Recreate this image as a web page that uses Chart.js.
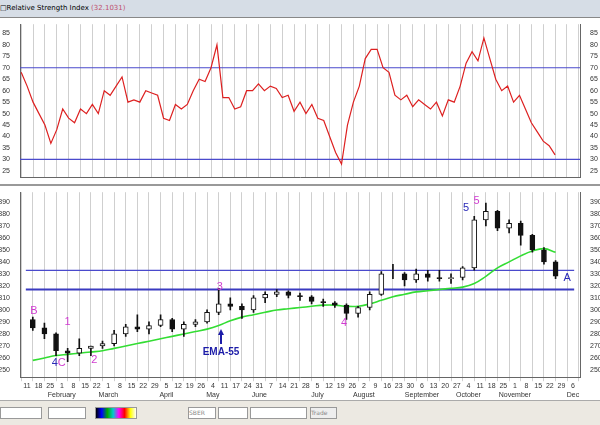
<!DOCTYPE html>
<html>
<head>
<meta charset="utf-8">
<script src="https://cdn.jsdelivr.net/npm/chart.js@4.4.1/dist/chart.umd.min.js"></script>
<style>
body { margin: 0; width: 600px; height: 425px; background: #fff; font-family: "DejaVu Sans", sans-serif; overflow: hidden; position: relative; }
#title { position: absolute; left: 0; top: 0; width: 600px; height: 17px; background: #d6dde6; border-bottom: 1px solid #888; font-size: 7px; line-height: 17px; }
#title span { color: #c0506e; }
#top { position: absolute; left: 0; top: 18px; }
#sep { position: absolute; left: 0; top: 184px; width: 600px; height: 2px; background: #999; }
#bottom { position: absolute; left: 0; top: 186px; }
#bar { position: absolute; left: 0; top: 400px; width: 600px; height: 25px; background: #ece9e2; border-top: 1px solid #aaa; font-size: 6px; color: #888; }
.box { position: absolute; top: 6px; height: 10px; border: 1px solid #999; background: #fff; }
</style>
</head>
<body>
<div id="title">&#9633;Relative Strength Index <span>(32.1031)</span></div>
<canvas id="top" width="600" height="166"></canvas>
<div id="sep"></div>
<canvas id="bottom" width="600" height="214"></canvas>
<div id="bar">
  <div class="box" style="left:0;width:40px"></div>
  <div class="box" style="left:48px;width:36px"></div>
  <div class="box" style="left:95px;width:40px;background:linear-gradient(90deg,#000,#00f,#0a0,#0cc,#f0f,#f00,#ff0,#fff)"></div>
  <div class="box" style="left:188px;width:26px;line-height:10px">SBER</div>
  <div class="box" style="left:218px;width:28px"></div>
  <div class="box" style="left:250px;width:55px"></div>
  <div class="box" style="left:310px;width:25px;line-height:10px;background:#eee">Trade</div>
</div>
<script>
// week tick labels (Mondays), month under first Monday of month
var weekDays = ["11", "18", "25", "1", "8", "15", "22", "1", "8", "15", "22", "29", "5", "12", "19", "26", "4", "11", "17", "24", "31", "7", "14", "21", "28", "5", "12", "19", "26", "2", "9", "16", "23", "30", "6", "13", "20", "27", "4", "11", "18", "25", "1", "8", "15", "22", "29", "6"];
var monthAt = { 3: "February", 7: "March", 12: "April", 16: "May", 20: "June", 25: "July", 29: "August", 34: "September", 38: "October", 42: "November", 47: "Dec" };

var rsiTicks = [25, 30, 35, 40, 45, 50, 55, 60, 65, 70, 75, 80, 85];
var priceTicks = [250, 260, 270, 280, 290, 300, 310, 320, 330, 340, 350, 360, 370, 380, 390];

// RSI, two readings per week
var rsiValues = [68, 62, 55, 50, 45, 37, 43, 52, 48, 46, 52, 50, 54, 50, 60, 58, 62, 66, 55, 56,
  55, 60, 59, 58, 48, 47, 54, 52, 54, 60, 65, 64, 70, 80, 57, 57, 52, 53, 60, 60,
  63, 60, 62, 61, 57, 58, 51, 55, 50, 54, 48, 47, 40, 33, 28, 45, 55, 62, 74, 78,
  78, 70, 68, 58, 56, 58, 53, 56, 54, 52, 55, 49, 56, 55, 62, 72, 77, 73, 83, 74,
  65, 60, 62, 55, 58, 52, 46, 42, 38, 36, 32];

// weekly price bars
var opens  = [292, 285, 280, 266, 264, 268, 270, 272, 280, 286, 284, 287, 292, 284, 288, 290, 298, 305, 303, 300, 310, 313, 315, 312, 311, 307, 306, 304, 297, 302, 313, 330, 330, 325, 330, 327, 326, 327, 335, 375, 382, 368, 372, 362, 350, 340];
var highs  = [294, 289, 281, 268, 276, 270, 274, 283, 288, 296, 290, 296, 293, 290, 292, 300, 318, 310, 305, 312, 315, 317, 316, 314, 312, 309, 307, 305, 303, 315, 332, 338, 331, 334, 333, 333, 330, 336, 378, 389, 383, 375, 374, 363, 352, 341];
var lows   = [283, 276, 262, 257, 262, 262, 268, 270, 278, 282, 280, 286, 282, 278, 286, 289, 296, 300, 293, 298, 306, 311, 310, 308, 305, 303, 302, 292, 294, 300, 312, 326, 320, 323, 324, 324, 322, 325, 333, 370, 366, 364, 354, 348, 338, 326];
var closes = [285, 280, 266, 264, 268, 270, 272, 280, 286, 284, 287, 292, 284, 288, 290, 298, 305, 303, 300, 310, 313, 315, 312, 311, 307, 306, 304, 297, 302, 313, 330, 330, 325, 330, 327, 326, 327, 335, 375, 382, 368, 372, 362, 350, 340, 328];
var ema55  = [258, 260, 262, 263, 264, 265, 266, 268, 270, 272, 274, 276, 278, 280, 282, 284, 287, 291, 294, 296, 298, 300, 301, 302, 303, 304, 304, 303, 303, 305, 308, 311, 313, 315, 316, 317, 318, 319, 322, 328, 335, 340, 345, 349, 351, 348];

var rsiLevels = [70, 30];
var priceLevels = [333, 317];

// wave labels: text, week, price, colour
var notes = [
  ["B", 0.6, 299, "#d03cd0"], ["1", 3.5, 290, "#d03cd0"], ["2", 5.8, 258, "#d03cd0"],
  ["4", 2.4, 256, "#2a2ab8"], ["C", 3.0, 256, "#d03cd0"], ["3", 16.6, 319, "#d03cd0"],
  ["4", 27.3, 289, "#d03cd0"], ["5", 37.8, 385, "#2a2ab8"], ["5", 38.7, 391, "#d03cd0"],
  ["A", 46.5, 327, "#2a2ab8"], ["EMA-55", 16.7, 265, "#1c1ca8"]
];

var XMIN = -0.1, XMAX = 47.1;

function fixWidth(s) { s.width = 20; }

function xAxis(showLabels) {
  return {
    type: "linear", min: XMIN, max: XMAX,
    afterBuildTicks: function(s) {
      var t = [];
      for (var i = 0; i < weekDays.length; ++i) t.push({ value: i });
      s.ticks = t;
    },
    grid: { color: "#cfcfcf", drawTicks: showLabels, tickLength: 4 },
    border: { color: "#666" },
    ticks: {
      display: showLabels, autoSkip: false, maxRotation: 0, padding: 1,
      font: { size: 7 }, color: "#333",
      callback: function(v) { return monthAt[v] ? [weekDays[v], monthAt[v]] : weekDays[v]; }
    }
  };
}

function yAxis(min, max, tickList, pos) {
  return {
    position: pos, min: min, max: max, afterFit: fixWidth,
    afterBuildTicks: function(s) {
      s.ticks = tickList.map(function(v) { return { value: v }; });
    },
    grid: { display: false },
    ticks: { font: { size: 7 }, color: "#333", padding: 2 },
    border: { color: "#666" }
  };
}

function levelData(v) { return [{ x: XMIN, y: v }, { x: XMAX, y: v }]; }

var rsiPoints = [];
for (var i = 0; i < rsiValues.length; ++i) rsiPoints.push({ x: i / 2, y: rsiValues[i] });

new Chart(document.getElementById("top"), {
  type: "line",
  data: {
    datasets: [
      { data: rsiPoints, borderColor: "#dd2020", borderWidth: 1.2, pointRadius: 0, tension: 0 },
      { data: levelData(rsiLevels[0]), borderColor: "#4a4acc", borderWidth: 1.2, pointRadius: 0 },
      { data: levelData(rsiLevels[1]), borderColor: "#4a4acc", borderWidth: 1.2, pointRadius: 0 }
    ]
  },
  options: {
    animation: false, responsive: false,
    layout: { padding: { top: 4, bottom: 2 } },
    plugins: { legend: { display: false }, tooltip: { enabled: false } },
    scales: { x: xAxis(false), y: yAxis(22, 89, rsiTicks, "left"), y2: yAxis(22, 89, rsiTicks, "right") }
  }
});

var wicks = [], bodies = [], bodyColors = [], emaPoints = [];
for (var i = 0; i < closes.length; ++i) {
  wicks.push({ x: i + 0.5, y: [lows[i], highs[i]] });
  bodies.push({ x: i + 0.5, y: [opens[i], closes[i]] });
  bodyColors.push(closes[i] < opens[i] ? "#111" : "#fff");
  emaPoints.push({ x: i + 0.5, y: ema55[i] });
}

var notePlugin = {
  id: "notes",
  afterDatasetsDraw: function(chart) {
    var ctx = chart.ctx, xs = chart.scales.x, ys = chart.scales.y;
    ctx.save();
    ctx.textAlign = "center";
    ctx.textBaseline = "middle";
    for (var i = 0; i < notes.length; ++i) {
      var n = notes[i];
      var px = xs.getPixelForValue(n[1]), py = ys.getPixelForValue(n[2]);
      ctx.fillStyle = n[3];
      if (n[0] == "EMA-55") {
        ctx.font = "bold 10px 'Liberation Sans'";
        ctx.fillText(n[0], px, py);
        ctx.strokeStyle = n[3];
        ctx.lineWidth = 2;
        ctx.beginPath(); ctx.moveTo(px, py - 8); ctx.lineTo(px, py - 20); ctx.stroke();
        ctx.beginPath(); ctx.moveTo(px - 3, py - 17); ctx.lineTo(px, py - 23); ctx.lineTo(px + 3, py - 17); ctx.fill();
      } else {
        ctx.font = "11px 'Liberation Sans'";
        ctx.fillText(n[0], px, py);
      }
    }
    ctx.restore();
  }
};

new Chart(document.getElementById("bottom"), {
  type: "bar",
  data: {
    datasets: [
      { type: "line", data: emaPoints, borderColor: "#33dd33", borderWidth: 1.6, pointRadius: 0, tension: 0.4, order: 2 },
      { type: "line", data: levelData(priceLevels[0]), borderColor: "#4a4acc", borderWidth: 1.2, pointRadius: 0, order: 3 },
      { type: "line", data: levelData(priceLevels[1]), borderColor: "#3a3ac0", borderWidth: 2, pointRadius: 0, order: 3 },
      { data: bodies, backgroundColor: bodyColors, borderColor: "#111", borderWidth: 1, borderSkipped: false, barThickness: 5, grouped: false, order: 0 },
      { data: wicks, backgroundColor: "#111", barThickness: 1, grouped: false, order: 1 }
    ]
  },
  options: {
    animation: false, responsive: false,
    layout: { padding: { top: 4, bottom: 0 } },
    plugins: { legend: { display: false }, tooltip: { enabled: false } },
    scales: { x: xAxis(true), y: yAxis(244, 398, priceTicks, "left"), y2: yAxis(244, 398, priceTicks, "right") }
  },
  plugins: [notePlugin]
});
</script>
</body>
</html>
